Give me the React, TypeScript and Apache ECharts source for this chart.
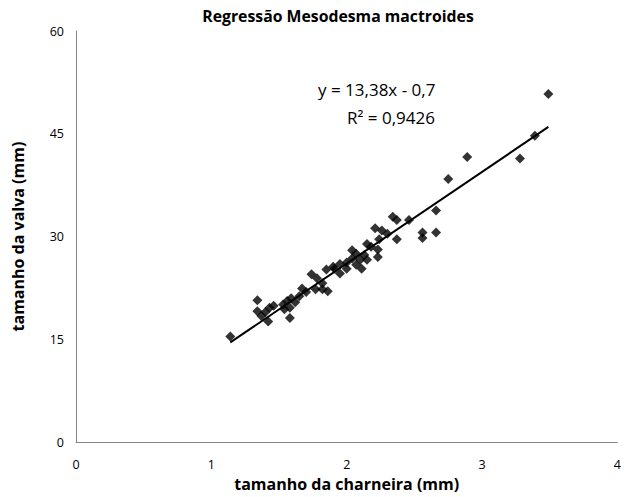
import React, { useEffect, useRef } from "react";
import * as echarts from "echarts";

const xValues = [
  1.14, 1.34, 1.34, 1.37, 1.42, 1.43, 1.46, 1.40, 1.53, 1.56,
  1.59, 1.58, 1.58, 1.54, 1.62, 1.65, 1.67, 1.70, 1.74, 1.78,
  1.82, 1.82, 1.77, 1.86, 1.85, 1.90, 1.95, 1.95, 1.91, 2.00,
  2.04, 2.07, 2.04, 2.10, 2.15, 2.11, 2.15, 2.18, 2.23, 2.23,
  2.24, 2.21, 2.26, 2.30, 2.34, 2.37, 2.37, 2.46, 2.56, 2.56,
  2.66, 2.66, 2.75, 2.89, 3.28, 3.39, 3.49, 2.13, 2.00, 2.07,
];
const yValues = [
  15.4, 20.7, 19.1, 18.4, 17.6, 19.6, 19.9, 19.0, 20.1, 20.6,
  21.0, 19.6, 18.1, 19.4, 20.4, 21.3, 22.4, 21.9, 24.5, 23.9,
  23.2, 22.3, 22.3, 22.0, 25.2, 25.6, 26.0, 24.6, 25.3, 26.2,
  28.0, 27.5, 26.8, 26.6, 26.6, 25.3, 28.9, 28.5, 28.1, 27.0,
  29.6, 31.2, 30.9, 30.4, 32.9, 32.4, 29.6, 32.4, 30.6, 29.8,
  33.8, 30.6, 38.4, 41.6, 41.4, 44.7, 50.8, 27.3, 25.3, 25.9,
];
const slope = 13.38;
const intercept = -0.7;
const trendRange = [1.14, 3.49];
const xTicks = [0, 1, 2, 3, 4];
const yTicks = [0, 15, 30, 45, 60];
const titleText = "Regressão Mesodesma mactroides";
const xName = "tamanho da charneira (mm)";
const yName = "tamanho da valva (mm)";
const eqText = "y = 13,38x - 0,7";
const r2Text = "R² = 0,9426";

const FONT = "'Open Sans', 'Noto Sans', sans-serif";

export default function App() {
  const ref = useRef<HTMLDivElement>(null);
  useEffect(() => {
    if (!ref.current) return;
    const chart = echarts.init(ref.current, undefined, { renderer: "svg" });
    const points = xValues.map((x, i) => [x, yValues[i]]);
    const trend = trendRange.map((x) => [x, slope * x + intercept]);
    chart.setOption({
      animation: false,
      backgroundColor: "#ffffff",
      textStyle: { fontFamily: FONT },
      title: {
        text: titleText,
        left: 333,
        textAlign: "center",
        top: 3,
        textStyle: { fontFamily: FONT, fontSize: 15.8, fontWeight: "bold", color: "#000" },
      },
      grid: { left: 76, right: 6, top: 31, bottom: 49, containLabel: false },
      xAxis: {
        type: "value",
        min: xTicks[0],
        max: xTicks[xTicks.length - 1],
        interval: 1,
        name: xName,
        nameLocation: "middle",
        nameGap: 30,
        nameTextStyle: { fontFamily: FONT, fontSize: 16, fontWeight: "bold", color: "#000" },
        axisLine: { show: true, onZero: false, lineStyle: { color: "#868686", width: 1 } },
        axisTick: { show: false },
        splitLine: { show: false },
        axisLabel: { margin: 16, fontSize: 12.5, color: "#000", fontFamily: FONT },
      },
      yAxis: {
        type: "value",
        min: yTicks[0],
        max: yTicks[yTicks.length - 1],
        interval: 15,
        name: yName,
        nameLocation: "middle",
        nameGap: 50,
        nameTextStyle: { fontFamily: FONT, fontSize: 16, fontWeight: "bold", color: "#000" },
        axisLine: { show: true, onZero: false, lineStyle: { color: "#868686", width: 1 } },
        axisTick: { show: false },
        splitLine: { show: false },
        axisLabel: { margin: 12, fontSize: 12.5, color: "#000", fontFamily: FONT },
      },
      graphic: [
        {
          type: "text",
          left: 318,
          top: 81,
          style: { text: eqText, font: "17px " + FONT, fill: "#000" },
        },
        {
          type: "text",
          left: 347,
          top: 109,
          style: { text: r2Text, font: "17px " + FONT, fill: "#000" },
        },
      ],
      series: [
        {
          type: "scatter",
          data: points,
          symbol: "diamond",
          symbolSize: 10,
          itemStyle: { color: "#000" },
          z: 3,
        },
        {
          type: "line",
          data: trend,
          showSymbol: false,
          symbol: "none",
          lineStyle: { color: "#000", width: 2 },
          z: 2,
        },
      ],
    });
    return () => chart.dispose();
  }, []);
  return (
    <div
      ref={ref}
      style={{ position: "fixed", left: 0, top: 0, width: 624, height: 497, background: "#fff" }}
    />
  );
}
